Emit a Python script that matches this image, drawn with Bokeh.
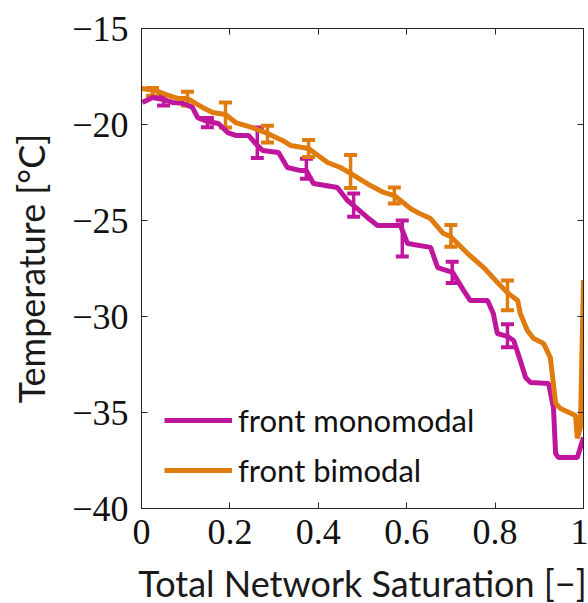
from bokeh.plotting import figure
from bokeh.models import (ColumnDataSource, Whisker, TeeHead, LinearAxis, FixedTicker,
                          CustomJSTickFormatter, Range1d)
from bokeh.embed import file_html
from bokeh.resources import INLINE

# ---- data ----
mono_x = [0.002, 0.025, 0.05, 0.070, 0.093, 0.115, 0.127, 0.149, 0.174, 0.195, 0.213, 0.242,
          0.258, 0.274, 0.310, 0.330, 0.360, 0.373, 0.389, 0.443, 0.466, 0.480, 0.511, 0.534,
          0.586, 0.602, 0.654, 0.670, 0.704, 0.729, 0.744, 0.783, 0.796, 0.805, 0.828, 0.842,
          0.857, 0.869, 0.880, 0.921, 0.932, 0.937, 0.943, 0.986, 0.993, 1.0]
mono_y = [-18.85, -18.59, -18.70, -18.85, -18.90, -19.10, -19.64, -19.84, -19.95, -20.42, -20.57, -20.57,
          -20.99, -21.35, -21.46, -22.24, -22.40, -22.40, -23.07, -23.28, -23.96, -24.22, -24.84, -25.26,
          -25.26, -26.20, -26.40, -27.45, -27.70, -28.65, -29.17, -29.17, -29.84, -30.89, -31.04, -31.25,
          -32.29, -33.18, -33.44, -33.49, -34.74, -37.14, -37.34, -37.34, -36.82, -36.30]

bi_x = [0.0, 0.032, 0.061, 0.084, 0.104, 0.138, 0.161, 0.190, 0.213, 0.251, 0.285, 0.319, 0.337,
        0.378, 0.421, 0.450, 0.473, 0.518, 0.548, 0.572, 0.609, 0.624, 0.654, 0.683, 0.699, 0.738,
        0.774, 0.812, 0.830, 0.851, 0.857, 0.873, 0.887, 0.910, 0.925, 0.937, 0.948, 0.982, 0.986,
        0.993, 1.0]
bi_y = [-18.13, -18.23, -18.49, -18.65, -18.65, -19.11, -19.38, -19.48, -19.90, -20.16, -20.47, -20.83, -21.09,
        -21.25, -21.98, -22.24, -22.55, -23.18, -23.54, -23.70, -24.38, -24.58, -24.90, -25.68, -25.83, -26.72,
        -27.45, -28.39, -28.80, -29.17, -29.84, -30.73, -31.15, -31.41, -32.14, -34.53, -34.79, -35.16, -36.35,
        -35.78, -28.10]

mono_err_x = [0.05, 0.149, 0.262, 0.373, 0.480, 0.590, 0.703, 0.828]
mono_err_y = [-18.75, -19.90, -20.95, -22.30, -24.20, -25.94, -27.70, -31.00]
mono_err = [0.26, 0.24, 0.80, 0.52, 0.60, 0.94, 0.55, 0.60]

bi_err_x = [0.025, 0.104, 0.190, 0.285, 0.378, 0.473, 0.572, 0.700, 0.828]
bi_err_y = [-18.30, -18.65, -19.50, -20.50, -21.25, -22.45, -23.70, -25.80, -28.90]
bi_err = [0.20, 0.36, 0.65, 0.44, 0.44, 0.86, 0.42, 0.57, 0.78]

x_ticks = [0, 0.2, 0.4, 0.6, 0.8, 1]
y_ticks = [-40, -35, -30, -25, -20, -15]

MAGENTA = "#BF169D"
ORANGE = "#E07B0E"
AX = "#262626"
SERIF = "'Liberation Serif', 'DejaVu Serif', serif"

p = figure(frame_width=442, frame_height=480, output_backend="svg", toolbar_location=None,
           x_range=Range1d(0, 1), y_range=Range1d(-40, -15),
           min_border_left=141, min_border_top=28, min_border_right=5, min_border_bottom=87)
p.grid.visible = False
p.outline_line_color = AX
p.outline_line_width = 1
p.background_fill_color = "white"

tick_fmt = CustomJSTickFormatter(code="""
var s = (Math.round(Math.abs(tick)*10)/10).toString();
return (tick < 0 ? '\u2212' : '') + s;
""")
empty_fmt = CustomJSTickFormatter(code="return '';")

for ax in (p.xaxis[0], p.yaxis[0]):
    ax.formatter = tick_fmt
    ax.major_tick_in = 6
    ax.major_tick_out = 0
    ax.minor_tick_in = 0
    ax.minor_tick_out = 0
    ax.axis_line_color = AX
    ax.major_tick_line_color = AX
    ax.major_label_text_font = SERIF
    ax.major_label_text_font_size = "36px"
    ax.major_label_text_color = "#111111"
    ax.axis_label_text_font = "Lato"
    ax.axis_label_text_font_size = "36px"
    ax.axis_label_text_font_style = "normal"
    ax.axis_label_text_color = "#1a1a1a"

p.xaxis[0].ticker = FixedTicker(ticks=x_ticks)
p.yaxis[0].ticker = FixedTicker(ticks=y_ticks)
p.xaxis[0].axis_label = "Total Network Saturation [\u2212]"
p.yaxis[0].axis_label = "Temperature [\u00b0C]"
p.xaxis[0].major_label_standoff = 11
p.yaxis[0].major_label_standoff = 13
p.xaxis[0].axis_label_standoff = 14
p.yaxis[0].axis_label_standoff = 16

top_ax = LinearAxis(ticker=FixedTicker(ticks=x_ticks), formatter=empty_fmt)
right_ax = LinearAxis(ticker=FixedTicker(ticks=y_ticks), formatter=empty_fmt)
for ax in (top_ax, right_ax):
    ax.major_tick_in = 6
    ax.major_tick_out = 0
    ax.minor_tick_in = 0
    ax.minor_tick_out = 0
    ax.axis_line_color = AX
    ax.major_tick_line_color = AX
    ax.major_label_text_font_size = "1px"
    ax.major_label_standoff = 0
p.add_layout(top_ax, "above")
p.add_layout(right_ax, "right")

# monomodal
p.line(mono_x, mono_y, line_color=MAGENTA, line_width=5, legend_label="front monomodal")
src_m = ColumnDataSource(dict(x=mono_err_x,
                              lo=[y - e for y, e in zip(mono_err_y, mono_err)],
                              hi=[y + e for y, e in zip(mono_err_y, mono_err)]))
p.add_layout(Whisker(base="x", lower="lo", upper="hi", source=src_m, line_color=MAGENTA, line_width=3.5,
                     upper_head=TeeHead(size=13, line_color=MAGENTA, line_width=4),
                     lower_head=TeeHead(size=13, line_color=MAGENTA, line_width=4)))

# bimodal
p.line(bi_x, bi_y, line_color=ORANGE, line_width=5, legend_label="front bimodal")
src_b = ColumnDataSource(dict(x=bi_err_x,
                              lo=[y - e for y, e in zip(bi_err_y, bi_err)],
                              hi=[y + e for y, e in zip(bi_err_y, bi_err)]))
p.add_layout(Whisker(base="x", lower="lo", upper="hi", source=src_b, line_color=ORANGE, line_width=3.5,
                     upper_head=TeeHead(size=13, line_color=ORANGE, line_width=4),
                     lower_head=TeeHead(size=13, line_color=ORANGE, line_width=4)))

lg = p.legend[0]
lg.location = (23, 18)
lg.padding = 0
lg.margin = 0
lg.spacing = 10
lg.glyph_width = 68
lg.glyph_height = 40
lg.label_height = 40
lg.label_standoff = 6
lg.label_text_font = "Lato"
lg.label_text_font_size = "31px"
lg.label_text_color = "#111111"
lg.background_fill_alpha = 0
lg.border_line_color = None

open("out.html", "w").write(file_html(p, INLINE))
